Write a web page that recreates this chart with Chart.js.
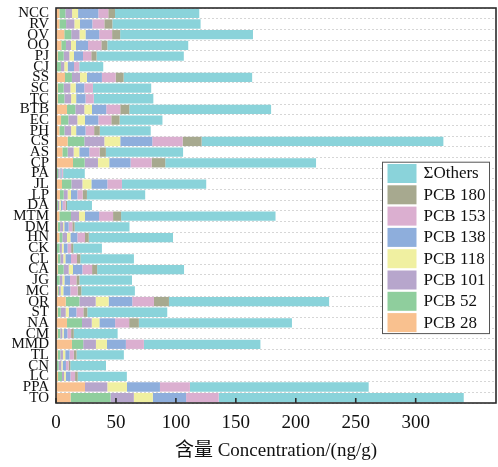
<!DOCTYPE html>
<html>
<head>
<meta charset="utf-8">
<script src="https://cdn.jsdelivr.net/npm/chart.js@4"></script>
<style>
  html, body { margin:0; padding:0; background:#fff; }
  #wrap { position:relative; width:498px; height:467px; }
</style>
</head>
<body>
<div id="wrap"><canvas id="c" width="498" height="467"></canvas></div>
<script>
// ── 데이터 (ng/g) ─────────────────────────────────────
const SITES = ['NCC','RV','OV','OO','PJ','CJ','SS','SC','TC','BTB','EC','PH','CS','AS','CP','PA','JL','LP','DA','MTM',
  'DM','HN','CK','CL','CA','JG','MC','OR','ST','NA','CM','MMD','TL','CN','LC','PPA','TO'];

const PCB28  = [2.8,2.8,6.9,4.4,1.4,0.8,7.5,1.4,1.4,9.2,4.2,2.8,9.7,5.3,14.2,0.8,5.0,3.3,0.8,2.8,
  1.4,2.8,0.5,1.4,1.4,0.3,1.4,8.1,1.4,9.2,1.4,13.3,1.4,0.8,1.7,24.2,12.2];
const PCB52  = [5.0,5.6,5.8,3.9,5.0,3.3,5.8,5.0,5.6,6.9,6.1,4.2,13.9,4.4,9.7,1.0,7.8,3.1,0.8,9.7,
  2.0,2.5,2.5,2.2,5.0,2.8,1.0,11.4,2.5,12.5,2.2,9.4,2.2,1.4,3.3,0,33.3];
const PCB101 = [5.6,6.9,6.9,4.2,4.7,2.8,6.7,5.6,5.6,7.5,7.5,5.6,16.7,5.0,11.1,1.2,9.2,3.3,1.1,6.7,
  2.5,3.9,1.9,2.5,4.2,2.2,1.5,13.6,4.2,8.1,1.7,10.6,2.2,2.2,1.7,18.6,19.4];
const PCB118 = [5.0,4.7,5.0,4.2,3.9,2.8,5.8,4.4,4.2,6.4,6.4,4.2,13.3,4.7,9.4,0.5,7.5,2.8,1.4,5.0,
  1.0,2.8,1.4,1.7,3.6,1.7,2.2,10.8,2.5,6.4,1.1,9.2,1.9,1.1,1.4,16.4,15.8];
const PCB138 = [16.9,10.3,11.4,10.0,7.5,5.3,12.5,7.2,7.8,11.9,11.1,7.8,26.7,8.3,17.8,1.2,13.3,5.3,1.4,11.7,
  3.6,5.8,3.3,4.7,7.8,4.7,5.8,19.7,6.4,13.1,3.1,15.8,3.6,2.8,3.9,27.5,27.8];
const PCB153 = [8.3,10.0,10.8,11.1,6.9,4.4,11.4,7.2,6.9,11.7,10.8,7.2,25.3,8.6,17.5,1.0,12.2,4.4,2.5,11.7,
  3.1,6.4,3.0,5.0,8.1,5.3,6.1,18.1,5.8,11.7,3.1,15.0,3.6,2.2,3.9,25.0,27.2];
const PCB180 = [5.6,6.7,6.7,5.0,4.4,0,6.7,0,0,7.5,6.9,4.7,15.8,5.3,11.4,0.3,0,3.6,1.2,6.7,
  1.9,3.1,1.8,2.8,4.2,2.5,3.1,12.5,3.3,8.1,2.2,0,2.2,1.4,2.2,0,0];
const OTHERS = [70.3,73.6,110.8,67.5,72.8,20.0,107.2,48.6,49.7,118.3,35.8,42.5,201.7,64.4,125.8,18.0,70.3,48.6,20.8,128.8,
  45.8,70.3,23.9,44.7,72.5,43.9,44.7,133.6,66.7,127.7,36.6,97.2,39.5,29.8,41.0,149.1,204.4];

const X_MAX  = 367;
const X_STEP = 50;

// ── 색상 / 폰트 ───────────────────────────────────────
const SERIES = [
  { label: 'PCB 28',  data: PCB28,  color: '#f9c18f' },
  { label: 'PCB 52',  data: PCB52,  color: '#8fce9d' },
  { label: 'PCB 101', data: PCB101, color: '#b7a6cc' },
  { label: 'PCB 118', data: PCB118, color: '#f0f0a1' },
  { label: 'PCB 138', data: PCB138, color: '#8eaedc' },
  { label: 'PCB 153', data: PCB153, color: '#dbafd0' },
  { label: 'PCB 180', data: PCB180, color: '#a7a98f' },
  { label: 'ΣOthers', data: OTHERS, color: '#8ad3da' },
];
const FONT = '"Liberation Serif", "Times New Roman", "Noto Sans CJK SC", serif';
const INK  = '#2b2b2b';

// ── 테두리 + 안쪽 눈금 ─────────────────────────────────
const framePlugin = {
  id: 'frame',
  afterDatasetsDraw(chart) {
    const { ctx, chartArea: a, scales: { x } } = chart;
    ctx.save();
    ctx.strokeStyle = INK;
    ctx.lineWidth = 1.6;
    ctx.strokeRect(a.left, a.top, a.right - a.left, a.bottom - a.top);
    x.ticks.forEach(t => {
      const px = x.getPixelForValue(t.value);
      ctx.beginPath();
      ctx.moveTo(px, a.bottom);
      ctx.lineTo(px, a.bottom - 5);
      ctx.stroke();
    });
    ctx.restore();
  },
};

// ── 범례 (플롯 안쪽 오른쪽) ───────────────────────────
const legendPlugin = {
  id: 'boxLegend',
  afterDraw(chart) {
    const { ctx, chartArea: a } = chart;
    const items = chart.data.datasets.slice().reverse();
    const w = 107, rowH = 21.3, pad = 2.3;
    const h = items.length * rowH + 1;
    const left = a.right - 7 - w, top = 161.7;
    ctx.save();
    ctx.fillStyle = '#fff';
    ctx.fillRect(left, top, w, h);
    ctx.strokeStyle = '#555';
    ctx.lineWidth = 1;
    ctx.strokeRect(left + 0.5, top + 0.5, w, h);
    ctx.font = `17px ${FONT}`;
    ctx.textBaseline = 'middle';
    items.forEach((d, i) => {
      const y = top + pad + i * rowH;
      ctx.fillStyle = d.backgroundColor;
      ctx.fillRect(left + 5.5, y, 29, 19);
      ctx.fillStyle = '#111';
      ctx.fillText(d.label, left + 41.5, y + 10);
    });
    ctx.restore();
  },
};

new Chart(document.getElementById('c'), {
  type: 'bar',
  data: {
    labels: SITES,
    datasets: SERIES.map(s => ({
      label: s.label,
      data: s.data,
      backgroundColor: s.color,
      borderWidth: 0,
      barPercentage: 0.87,
      categoryPercentage: 1.0,
    })),
  },
  options: {
    indexAxis: 'y',
    responsive: false,
    animation: false,
    layout: { padding: { top: 8, right: 2, left: 0, bottom: 0 } },
    plugins: {
      legend: { display: false },
      tooltip: { enabled: false },
    },
    scales: {
      x: {
        stacked: true,
        min: 0,
        max: X_MAX,
        grid: { display: false, drawTicks: false },
        border: { display: false },
        afterBuildTicks: s => { s.ticks = s.ticks.filter(t => t.value % X_STEP === 0); },
        afterFit: s => { s.height = 64; s.paddingLeft = 0; s.paddingRight = 0; },
        ticks: {
          stepSize: X_STEP,
          color: '#111',
          padding: 9,
          font: { family: FONT, size: 19 },
        },
        title: {
          display: true,
          text: '含量 Concentration/(ng/g)',
          color: '#111',
          font: { family: FONT, size: 19 },
          padding: { top: 0, bottom: 5 },
        },
      },
      y: {
        stacked: true,
        grid: { color: '#d6d6d6', lineWidth: 1, drawTicks: false, offset: true },
        border: { display: false, dash: [2, 2] },
        afterFit: s => { s.width = 56; s.paddingTop = 0; s.paddingBottom = 0; },
        ticks: {
          autoSkip: false,
          color: '#111',
          padding: 7,
          font: { family: FONT, size: 15, lineHeight: 1.0 },
        },
      },
    },
  },
  plugins: [framePlugin, legendPlugin],
});
</script>
</body>
</html>
